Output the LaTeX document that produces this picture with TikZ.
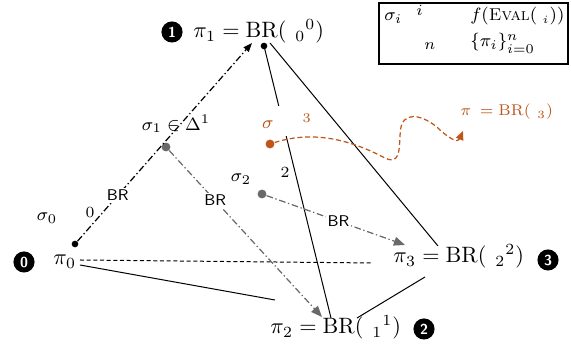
\documentclass[tikz,border=0pt]{standalone}
\usetikzlibrary{arrows.meta,calc}
\definecolor{rust}{RGB}{190,85,25}
\definecolor{midgray}{RGB}{105,105,105}
\begin{document}
\begin{tikzpicture}[x=0.45pt,y=-0.45pt,
  badge/.style={circle,fill=black,text=white,font=\sffamily\bfseries\fontsize{6.5}{7}\selectfont,minimum size=9.5pt,inner sep=0pt},
  lbl/.style={inner sep=0pt,anchor=base west},
  brl/.style={fill=white,inner sep=0.8pt,font=\sffamily\fontsize{7}{8}\selectfont},
  edge/.style={line width=0.45pt},
  dotblack/.style={circle,fill=black,inner sep=0pt,minimum size=3pt},
  dotgray/.style={circle,fill=midgray,inner sep=0pt,minimum size=4pt},
  dotrust/.style={circle,fill=rust,inner sep=0pt,minimum size=4pt},
  dashdot/.style={line width=0.55pt,dash pattern=on 3pt off 1.2pt on 0.6pt off 1.2pt},
  grayarrow/.style={dashdot,draw=midgray,-{Triangle[length=5pt,width=4pt]}},
  blackarrow/.style={dashdot,draw=black,-{Triangle[length=4pt,width=3pt]}},
  rustarrow/.style={draw=rust,line width=0.55pt,dash pattern=on 2.2pt off 1.3pt,-{Triangle[length=4pt,width=3.5pt]}},
]
\useasboundingbox (0,0) rectangle (571,354);

% named coordinates
\coordinate (top) at (264,46);
\coordinate (topR) at (270,43);
\coordinate (tip0) at (252,43);
\coordinate (v2top) at (331,318);
\coordinate (v2L) at (275,300);
\coordinate (v2R) at (357,318);
\coordinate (v3top) at (438,246);
\coordinate (v3L) at (425,277);
\coordinate (v0R) at (80,265);
\coordinate (d0) at (80,260);
\coordinate (d3) at (373,263);
\coordinate (g1tip) at (322,317);
\coordinate (g2tip) at (405,245);
\coordinate (rtip) at (463,131);

% badges and main labels
\node[badge] (b1) at (172,32) {1};
\node[lbl] (p1) at (193,38) {$\pi_1 = \mathrm{BR}(\hspace{4pt}{}_0{}^0)$};
\node[badge] (b0) at (24,262) {0};
\node[lbl] (p0) at (53,265) {$\pi_0$};
\node[badge] (b3) at (548,260) {3};
\node[lbl] (p3) at (393,263) {$\pi_3 = \mathrm{BR}(\hspace{4pt}{}_2{}^2)$};
\node[badge] (b2) at (424,329) {2};
\node[lbl] (p2) at (270,334) {$\pi_2 = \mathrm{BR}(\hspace{4pt}{}_1{}^1)$};

% simplex edges
\draw[edge] (top) -- (v2top);
\draw[edge] (topR) -- (v3top);
\draw[edge] (v0R) -- (v2L);
\draw[edge] (v2R) -- (v3L);
\draw[edge,dash pattern=on 1.8pt off 1.2pt] (d0) -- (d3);

% dots
\node[dotblack] (s0) at (75,244) {};
\node[dotblack] (t1) at (top) {};
\node[dotgray] (s1) at (166,147) {};
\node[dotgray] (s2) at (262,194) {};

% arrows
\draw[blackarrow] (s0) -- (tip0) node[brl,pos=0.23] {BR};
\draw[grayarrow] (s1) -- (g1tip) node[brl,pos=0.3] {BR};
\draw[grayarrow] (s2) -- (g2tip) node[brl,pos=0.52] {BR};

% orange
\node[fill=white,inner xsep=1pt,minimum height=11pt,text=rust,font=\footnotesize] (olab) at (287,121) {$\sigma\hspace{13pt}{}^{3}$};
\node[dotrust] (sr) at (270,144) {};
\draw[rustarrow] (sr) .. controls (320,128) and (360,145) .. (385,158)
  .. controls (405,168) and (397,135) .. (402,124)
  .. controls (408,110) and (428,118) .. (440,130)
  .. controls (450,139) and (458,143) .. (rtip);
\node[lbl,text=rust,font=\fontsize{7.2}{8.5}\selectfont] (rlab) at (460,116) {$\pi\hspace{1.5pt} = \mathrm{BR}(\hspace{3pt}{}_3)$};

% small labels
\node[font=\footnotesize] (l0) at (47,218) {$\sigma_0$};
\node[font=\scriptsize] (n0) at (90,212) {0};
\node[font=\footnotesize] (l1) at (176,124) {$\sigma_1 \in \Delta^1$};
\node[font=\footnotesize] (l2) at (241,179) {$\sigma_2$};
\node[font=\scriptsize] (n2) at (285,172) {$2$};

% legend
\draw[line width=0.5pt] (379,3) rectangle (568,64);
\node[lbl,font=\footnotesize] (ls) at (384,21) {$\sigma_i$};
\node[lbl,font=\scriptsize] (li) at (416,16) {$i$};
\node[lbl,font=\fontsize{7.7}{9}\selectfont] (lf) at (470,21) {$f(\textsc{Eval}(\hspace{2.5pt}{}_i))$};
\node[lbl,font=\scriptsize] (ln) at (424,50) {$n$};
\node[lbl,font=\footnotesize] (lp) at (470,47) {$\{\pi_i\}_{i=0}^n$};
\end{tikzpicture}
\end{document}
